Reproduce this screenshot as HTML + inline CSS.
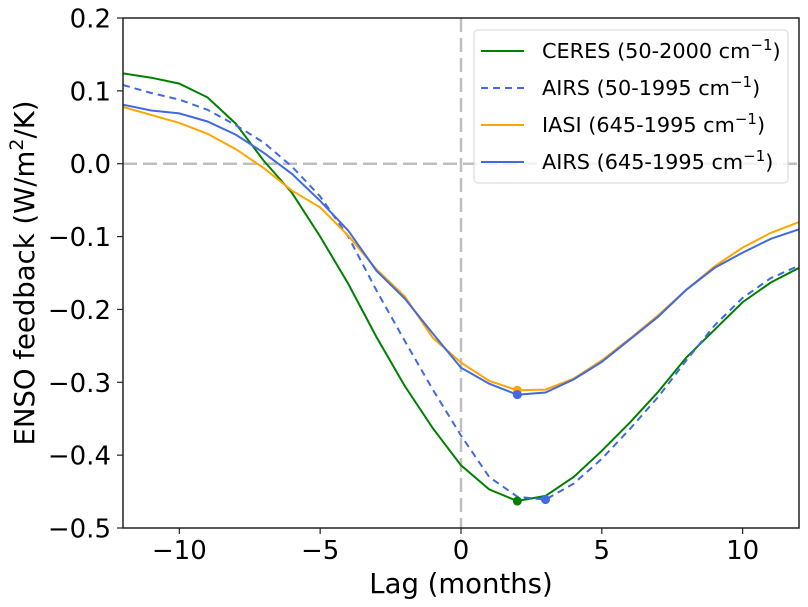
<!DOCTYPE html>
<html><head><meta charset="utf-8"><style>
html,body{margin:0;padding:0;background:#fff;}
svg{display:block;font-family:"DejaVu Sans","Liberation Sans",sans-serif;}
</style></head><body>
<svg id="chart" width="808" height="607" xmlns="http://www.w3.org/2000/svg"></svg>
<script>
const lags = [-12,-11,-10,-9,-8,-7,-6,-5,-4,-3,-2,-1,0,1,2,3,4,5,6,7,8,9,10,11,12];
const ceres = [0.124,0.118,0.110,0.091,0.055,0.004,-0.040,-0.100,-0.165,-0.238,-0.305,-0.363,-0.414,-0.447,-0.463,-0.456,-0.430,-0.394,-0.355,-0.313,-0.266,-0.228,-0.190,-0.163,-0.143];
const airsFull = [0.108,0.097,0.088,0.074,0.053,0.029,-0.004,-0.045,-0.100,-0.174,-0.243,-0.310,-0.373,-0.430,-0.457,-0.461,-0.439,-0.405,-0.364,-0.320,-0.270,-0.222,-0.184,-0.157,-0.140];
const iasi = [0.078,0.067,0.056,0.041,0.020,-0.006,-0.037,-0.060,-0.099,-0.145,-0.182,-0.239,-0.273,-0.298,-0.311,-0.310,-0.295,-0.270,-0.240,-0.208,-0.173,-0.141,-0.115,-0.095,-0.080];
const airs645 = [0.081,0.073,0.069,0.058,0.040,0.015,-0.014,-0.051,-0.092,-0.147,-0.185,-0.233,-0.280,-0.302,-0.317,-0.314,-0.296,-0.272,-0.241,-0.210,-0.173,-0.143,-0.122,-0.103,-0.090];
const xTicks = [-10,-5,0,5,10];
const yTicks = [0.2,0.1,0.0,-0.1,-0.2,-0.3,-0.4,-0.5];
const yTickLabels = ["0.2","0.1","0.0","\u22120.1","\u22120.2","\u22120.3","\u22120.4","\u22120.5"];
const xTickLabels = ["\u221210","\u22125","0","5","10"];

const L=123,R=799,T=18,B=528;
const X = v => L + (v+12)/24*(R-L);
const Y = v => T + (0.2-v)/0.7*(B-T);
const NS="http://www.w3.org/2000/svg";
const svg=document.getElementById('chart');
function mk(tag,attrs,parent){const e=document.createElementNS(NS,tag);for(const k in attrs)e.setAttribute(k,attrs[k]);(parent||svg).appendChild(e);return e;}

let e=mk('line',{x1:L,x2:R,y1:Y(0),y2:Y(0),stroke:'#bfbfbf','stroke-width':2.5,'stroke-dasharray':'14,6'});


e=mk('line',{x1:X(0),x2:X(0),y1:T,y2:B,stroke:'#bfbfbf','stroke-width':2.5,'stroke-dasharray':'14,6'});



const series=[
 {name:'ceres-line',data:ceres,color:'#008000',dash:null},
 {name:'airs-50-1995-line',data:airsFull,color:'#4169e1',dash:'7,5'},
 {name:'iasi-645-1995-line',data:iasi,color:'#ffa500',dash:null},
 {name:'airs-645-1995-line',data:airs645,color:'#4169e1',dash:null}
];
const clip=mk('clipPath',{id:'pc'});mk('rect',{x:L,y:T,width:R-L,height:B-T},clip);
series.forEach(s=>{
  const pts=lags.map((l,i)=>X(l).toFixed(1)+','+Y(s.data[i]).toFixed(1)).join(' ');
  const p=mk('polyline',{points:pts,fill:'none',stroke:s.color,'stroke-width':2,'clip-path':'url(#pc)'});
  if(s.dash)p.setAttribute('stroke-dasharray',s.dash);
  
  
});
series.forEach(s=>{
  let mi=0;s.data.forEach((v,i)=>{if(v<s.data[mi])mi=i;});
  const c=mk('circle',{cx:X(lags[mi]),cy:Y(s.data[mi]),r:4.5,fill:s.color});
  
  
});

e=mk('rect',{x:L,y:T,width:R-L,height:B-T,fill:'none',stroke:'#222','stroke-width':1.5});



xTicks.forEach((t,i)=>{
  mk('line',{x1:X(t),x2:X(t),y1:B,y2:B+6,stroke:'#222','stroke-width':1.2});
  const tx=mk('text',{x:X(t),y:B+31,'text-anchor':'middle','font-size':26,fill:'#000'});
  tx.textContent=xTickLabels[i];
  
  
});
yTicks.forEach((t,i)=>{
  mk('line',{x1:L-6,x2:L,y1:Y(t),y2:Y(t),stroke:'#222','stroke-width':1.2});
  const tx=mk('text',{x:L-12,y:Y(t)+9.5,'text-anchor':'end','font-size':26,fill:'#000'});
  tx.textContent=yTickLabels[i];
  
  
});
e=mk('text',{x:(L+R)/2,y:593,'text-anchor':'middle','font-size':27.5,fill:'#000'});
e.textContent='Lag (months)';


e=mk('text',{x:0,y:0,'text-anchor':'middle','font-size':27.5,fill:'#000',transform:'translate(34,'+((T+B)/2)+') rotate(-90)'});
e.innerHTML='ENSO feedback (W/m<tspan baseline-shift="super" font-size="19">2</tspan>/K)';



const lg=mk('g',{});


mk('rect',{x:474,y:30,width:314,height:153,rx:4,fill:'#fff','fill-opacity':0.8,stroke:'#d6d6d6','stroke-width':1},lg);
const labels=[['CERES (50-2000 cm','\u22121',')'],['AIRS (50-1995 cm','\u22121',')'],['IASI (645-1995 cm','\u22121',')'],['AIRS (645-1995 cm','\u22121',')']];
series.forEach((s,i)=>{
  const y=51+i*37;
  const g=mk('g',{},lg);
  
  
  const ln=mk('line',{x1:481,x2:524,y1:y,y2:y,stroke:s.color,'stroke-width':2},g);
  if(s.dash)ln.setAttribute('stroke-dasharray',s.dash);
  const t=mk('text',{x:542,y:y+7,'font-size':20.8,fill:'#000'},g);
  t.innerHTML=labels[i][0]+'<tspan dy="-8" font-size="15">'+labels[i][1]+'</tspan><tspan dy="8">'+labels[i][2]+'</tspan>';
});
</script>
</body></html>
